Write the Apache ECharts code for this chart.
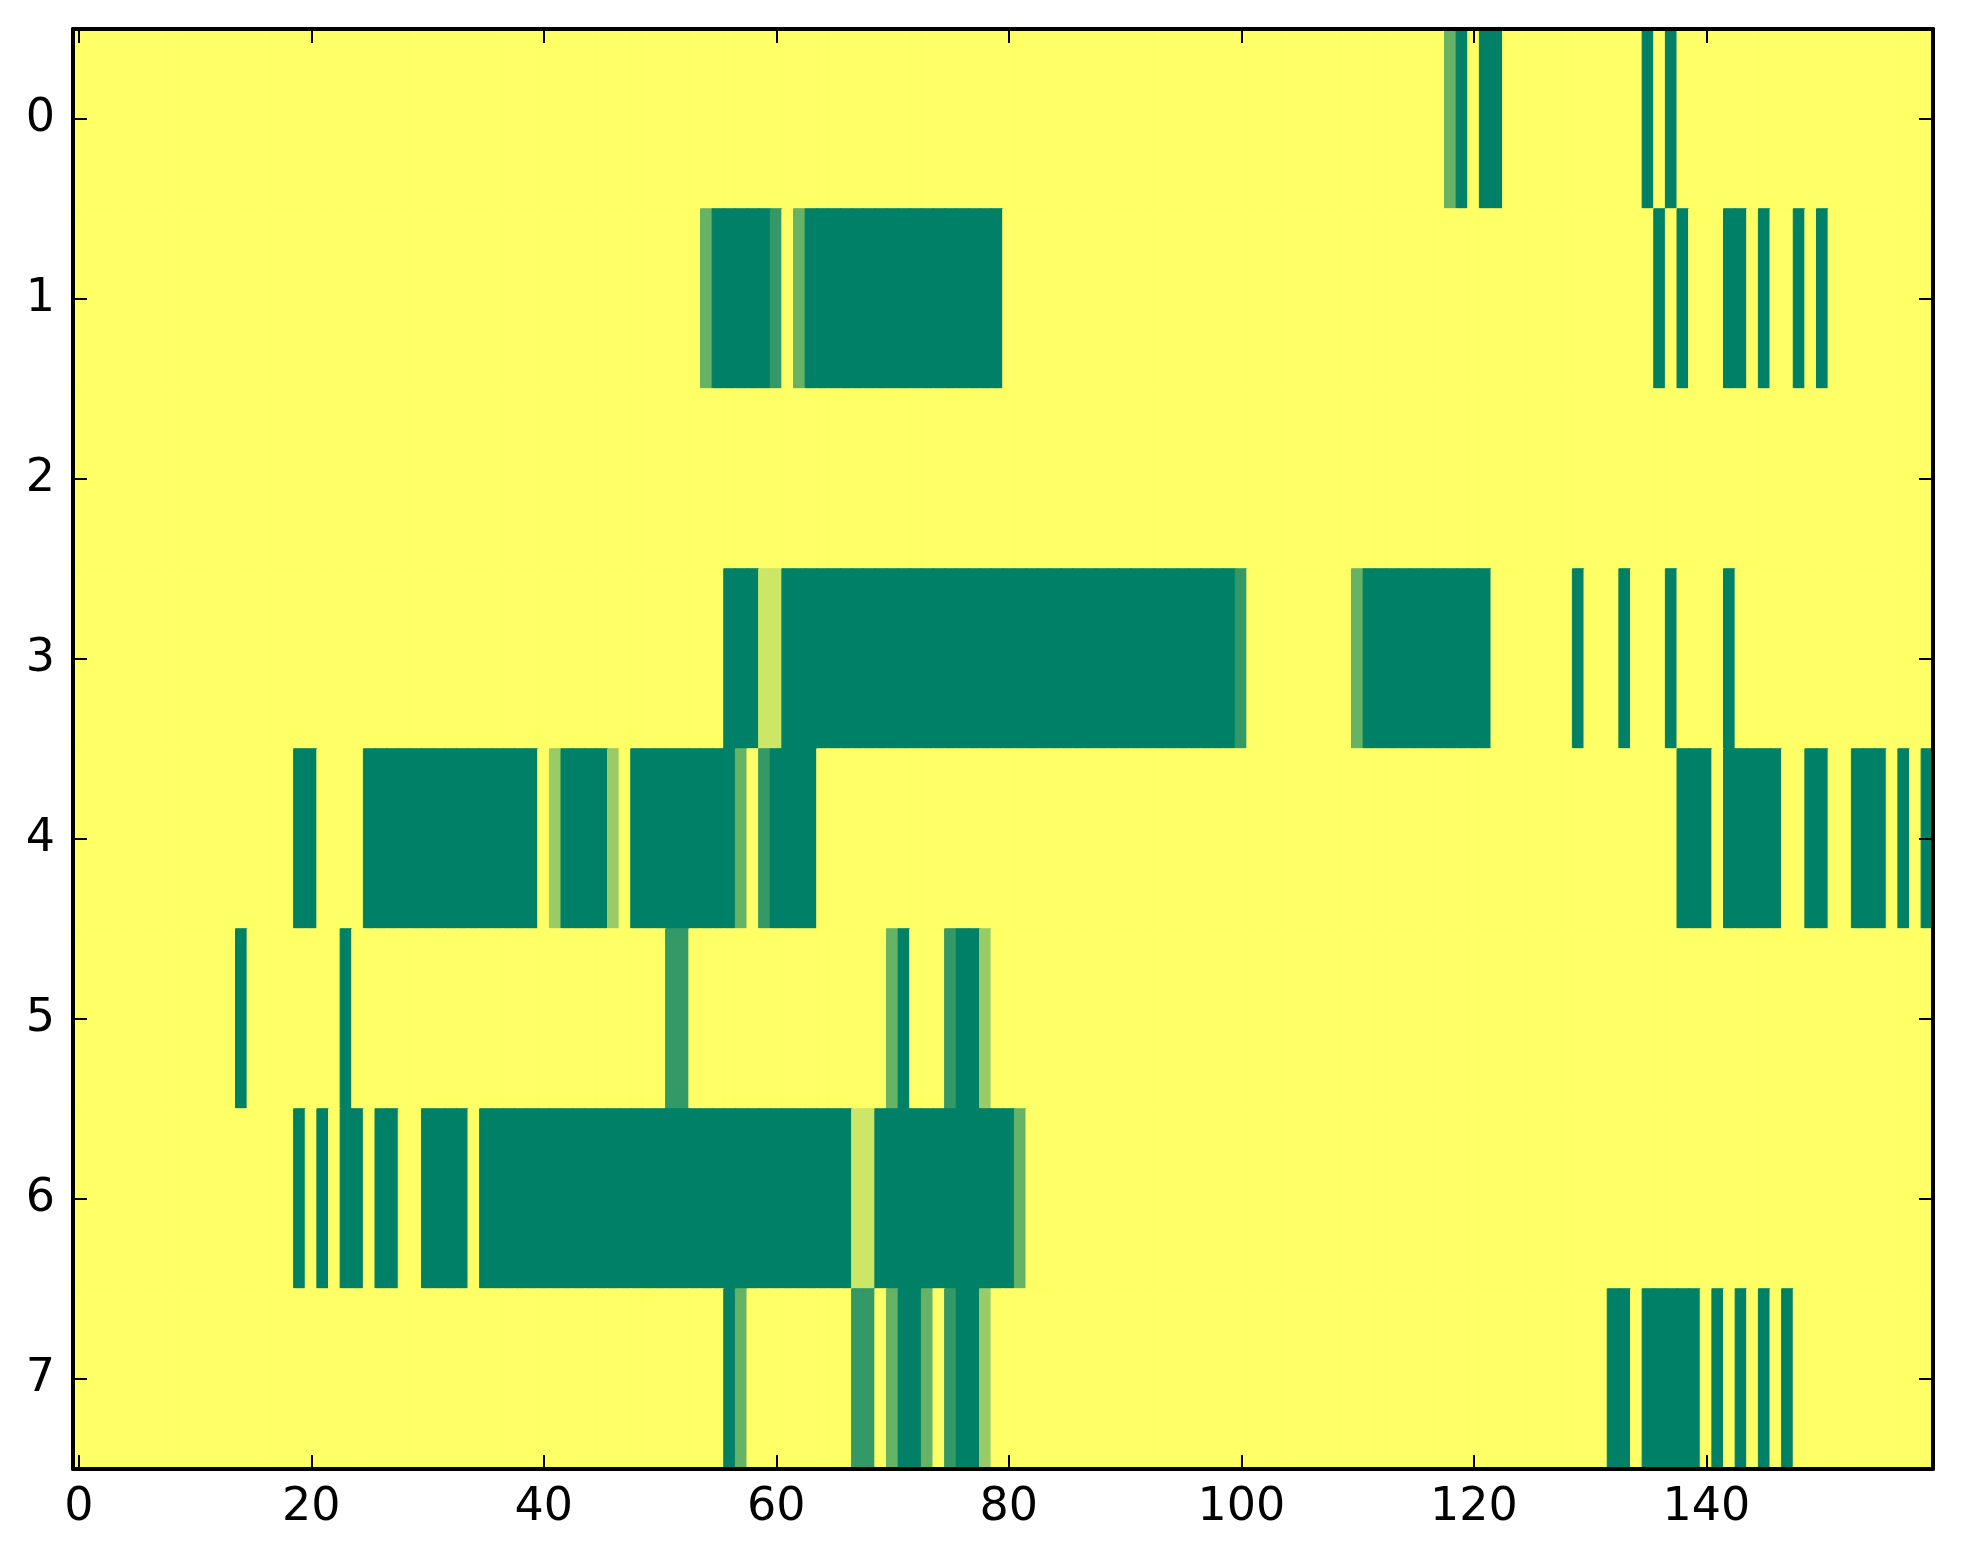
<!DOCTYPE html>
<html>
<head>
<meta charset="utf-8">
<script src="https://cdn.jsdelivr.net/npm/echarts@6/dist/echarts.min.js"></script>
<style>
html,body{margin:0;padding:0;background:#fff;}
#chart{width:1963px;height:1564px;}
</style>
</head>
<body>
<div id="chart"></div>
<script>
// Row values (0 = yellow ... 5 = dark green), columns 0..159
const row0 = [
0,0,0,0,0, 0,0,0,0,0, 0,0,0,0,0, 0,0,0,0,0,
0,0,0,0,0, 0,0,0,0,0, 0,0,0,0,0, 0,0,0,0,0,
0,0,0,0,0, 0,0,0,0,0, 0,0,0,0,0, 0,0,0,0,0,
0,0,0,0,0, 0,0,0,0,0, 0,0,0,0,0, 0,0,0,0,0,
0,0,0,0,0, 0,0,0,0,0, 0,0,0,0,0, 0,0,0,0,0,
0,0,0,0,0, 0,0,0,0,0, 0,0,0,0,0, 0,0,0,3,5,
0,5,5,0,0, 0,0,0,0,0, 0,0,0,0,0, 5,0,5,0,0,
0,0,0,0,0, 0,0,0,0,0, 0,0,0,0,0, 0,0,0,0,0
];
const row1 = [
0,0,0,0,0, 0,0,0,0,0, 0,0,0,0,0, 0,0,0,0,0,
0,0,0,0,0, 0,0,0,0,0, 0,0,0,0,0, 0,0,0,0,0,
0,0,0,0,0, 0,0,0,0,0, 0,0,0,0,3, 5,5,5,5,5,
4,0,3,5,5, 5,5,5,5,5, 5,5,5,5,5, 5,5,5,5,5,
0,0,0,0,0, 0,0,0,0,0, 0,0,0,0,0, 0,0,0,0,0,
0,0,0,0,0, 0,0,0,0,0, 0,0,0,0,0, 0,0,0,0,0,
0,0,0,0,0, 0,0,0,0,0, 0,0,0,0,0, 0,5,0,5,0,
0,0,5,5,0, 5,0,0,5,0, 5,0,0,0,0, 0,0,0,0,0
];
const row2 = [
0,0,0,0,0, 0,0,0,0,0, 0,0,0,0,0, 0,0,0,0,0,
0,0,0,0,0, 0,0,0,0,0, 0,0,0,0,0, 0,0,0,0,0,
0,0,0,0,0, 0,0,0,0,0, 0,0,0,0,0, 0,0,0,0,0,
0,0,0,0,0, 0,0,0,0,0, 0,0,0,0,0, 0,0,0,0,0,
0,0,0,0,0, 0,0,0,0,0, 0,0,0,0,0, 0,0,0,0,0,
0,0,0,0,0, 0,0,0,0,0, 0,0,0,0,0, 0,0,0,0,0,
0,0,0,0,0, 0,0,0,0,0, 0,0,0,0,0, 0,0,0,0,0,
0,0,0,0,0, 0,0,0,0,0, 0,0,0,0,0, 0,0,0,0,0
];
const row3 = [
0,0,0,0,0, 0,0,0,0,0, 0,0,0,0,0, 0,0,0,0,0,
0,0,0,0,0, 0,0,0,0,0, 0,0,0,0,0, 0,0,0,0,0,
0,0,0,0,0, 0,0,0,0,0, 0,0,0,0,0, 0,5,5,5,1,
1,5,5,5,5, 5,5,5,5,5, 5,5,5,5,5, 5,5,5,5,5,
5,5,5,5,5, 5,5,5,5,5, 5,5,5,5,5, 5,5,5,5,5,
4,0,0,0,0, 0,0,0,0,0, 3,5,5,5,5, 5,5,5,5,5,
5,5,0,0,0, 0,0,0,0,5, 0,0,0,5,0, 0,0,5,0,0,
0,0,5,0,0, 0,0,0,0,0, 0,0,0,0,0, 0,0,0,0,0
];
const row4 = [
0,0,0,0,0, 0,0,0,0,0, 0,0,0,0,0, 0,0,0,0,5,
5,0,0,0,0, 5,5,5,5,5, 5,5,5,5,5, 5,5,5,5,5,
0,2,5,5,5, 5,2,0,5,5, 5,5,5,5,5, 5,5,3,0,4,
5,5,5,5,0, 0,0,0,0,0, 0,0,0,0,0, 0,0,0,0,0,
0,0,0,0,0, 0,0,0,0,0, 0,0,0,0,0, 0,0,0,0,0,
0,0,0,0,0, 0,0,0,0,0, 0,0,0,0,0, 0,0,0,0,0,
0,0,0,0,0, 0,0,0,0,0, 0,0,0,0,0, 0,0,0,5,5,
5,0,5,5,5, 5,5,0,0,5, 5,0,0,5,5, 5,0,5,0,5
];
const row5 = [
0,0,0,0,0, 0,0,0,0,0, 0,0,0,0,5, 0,0,0,0,0,
0,0,0,5,0, 0,0,0,0,0, 0,0,0,0,0, 0,0,0,0,0,
0,0,0,0,0, 0,0,0,0,0, 0,4,4,0,0, 0,0,0,0,0,
0,0,0,0,0, 0,0,0,0,0, 3,5,0,0,0, 4,5,5,2,0,
0,0,0,0,0, 0,0,0,0,0, 0,0,0,0,0, 0,0,0,0,0,
0,0,0,0,0, 0,0,0,0,0, 0,0,0,0,0, 0,0,0,0,0,
0,0,0,0,0, 0,0,0,0,0, 0,0,0,0,0, 0,0,0,0,0,
0,0,0,0,0, 0,0,0,0,0, 0,0,0,0,0, 0,0,0,0,0
];
const row6 = [
0,0,0,0,0, 0,0,0,0,0, 0,0,0,0,0, 0,0,0,0,5,
0,5,0,5,5, 0,5,5,0,0, 5,5,5,5,0, 5,5,5,5,5,
5,5,5,5,5, 5,5,5,5,5, 5,5,5,5,5, 5,5,5,5,5,
5,5,5,5,5, 5,5,1,1,5, 5,5,5,5,5, 5,5,5,5,5,
5,3,0,0,0, 0,0,0,0,0, 0,0,0,0,0, 0,0,0,0,0,
0,0,0,0,0, 0,0,0,0,0, 0,0,0,0,0, 0,0,0,0,0,
0,0,0,0,0, 0,0,0,0,0, 0,0,0,0,0, 0,0,0,0,0,
0,0,0,0,0, 0,0,0,0,0, 0,0,0,0,0, 0,0,0,0,0
];
const row7 = [
0,0,0,0,0, 0,0,0,0,0, 0,0,0,0,0, 0,0,0,0,0,
0,0,0,0,0, 0,0,0,0,0, 0,0,0,0,0, 0,0,0,0,0,
0,0,0,0,0, 0,0,0,0,0, 0,0,0,0,0, 0,5,3,0,0,
0,0,0,0,0, 0,0,4,4,0, 3,5,5,3,0, 4,5,5,2,0,
0,0,0,0,0, 0,0,0,0,0, 0,0,0,0,0, 0,0,0,0,0,
0,0,0,0,0, 0,0,0,0,0, 0,0,0,0,0, 0,0,0,0,0,
0,0,0,0,0, 0,0,0,0,0, 0,0,5,5,0, 5,5,5,5,5,
0,5,0,5,0, 5,0,5,0,0, 0,0,0,0,0, 0,0,0,0,0
];
const rows = [row0, row1, row2, row3, row4, row5, row6, row7];
const rowLabels = ['0','1','2','3','4','5','6','7'];
const colLabels = row0.map((_, i) => String(i));
const colorRange = ['#ffff66', '#008066'];
const vMin = 0, vMax = 5;

function cellColor(v) {
  return echarts.color.lerp((v - vMin) / (vMax - vMin), colorRange);
}

const data = [];
rows.forEach((r, y) => r.forEach((v, x) => {
  const c = cellColor(v);
  data.push({value: [x, y, v], itemStyle: {color: c, borderColor: c, borderWidth: 1}});
}));

const chart = echarts.init(document.getElementById('chart'), null, {renderer: 'canvas'});
const font = {fontFamily: 'DejaVu Sans', fontSize: 46, color: '#000'};
const lineStyle = {color: '#000', width: 4};
const tickStyle = {color: '#000', width: 2};

function axisCommon(extra) {
  return Object.assign({
    z: 50,
    axisLine: {show: true, lineStyle: lineStyle},
    splitLine: {show: false},
    splitArea: {show: false}
  }, extra);
}

chart.setOption({
  animation: false,
  backgroundColor: '#ffffff',
  grid: {left: 73, right: 30, top: 29, bottom: 95, containLabel: false},
  xAxis: [
    axisCommon({type: 'category', data: colLabels, position: 'bottom',
     axisTick: {show: true, inside: true, length: 14, alignWithLabel: true, interval: 19, lineStyle: tickStyle},
     axisLabel: Object.assign({interval: 19, margin: 16}, font)}),
    axisCommon({type: 'category', data: colLabels, position: 'top',
     axisTick: {show: true, inside: true, length: 14, alignWithLabel: true, interval: 19, lineStyle: tickStyle},
     axisLabel: {show: false}})
  ],
  yAxis: [
    axisCommon({type: 'category', data: rowLabels, inverse: true, position: 'left',
     axisTick: {show: true, inside: true, length: 14, alignWithLabel: true, interval: 0, lineStyle: tickStyle},
     axisLabel: Object.assign({interval: 0, margin: 18}, font)}),
    axisCommon({type: 'category', data: rowLabels, inverse: true, position: 'right',
     axisTick: {show: true, inside: true, length: 14, alignWithLabel: true, interval: 0, lineStyle: tickStyle},
     axisLabel: {show: false}})
  ],
  series: [{
    type: 'heatmap',
    xAxisIndex: 0, yAxisIndex: 0,
    z: 1,
    data: data,
    emphasis: {disabled: true},
    progressive: 0
  }]
});
</script>
</body>
</html>
